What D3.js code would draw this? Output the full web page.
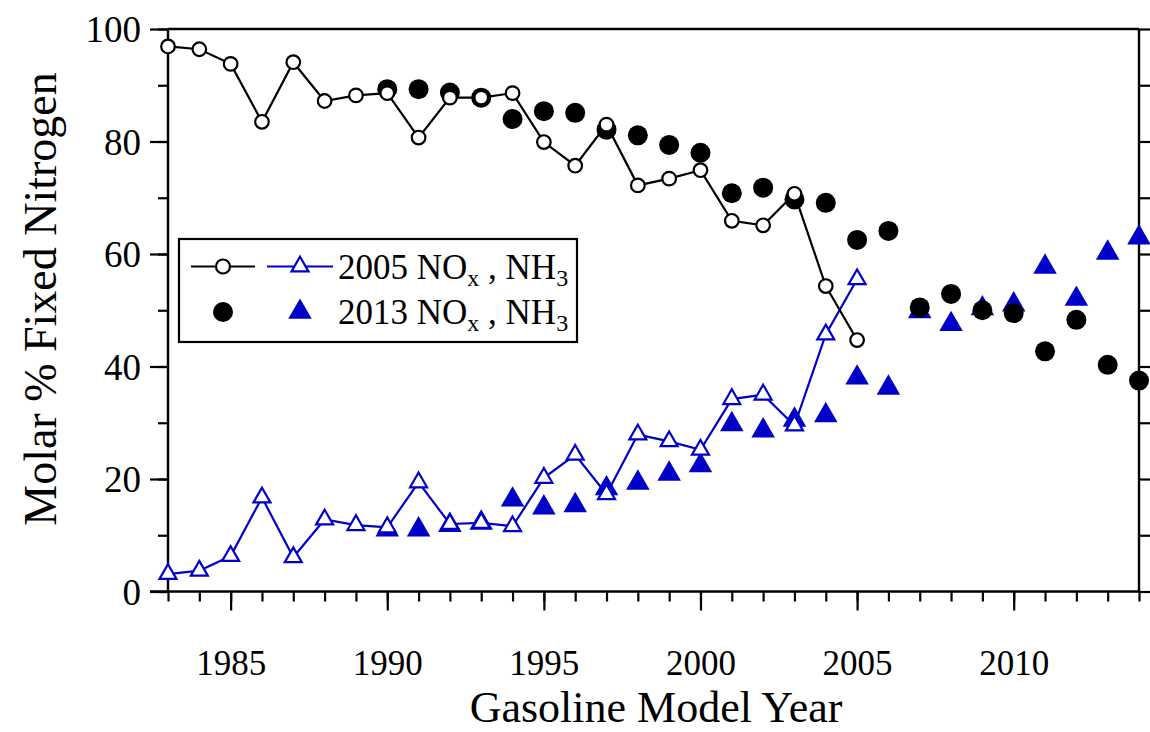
<!DOCTYPE html>
<html>
<head>
<meta charset="utf-8">
<script src="https://cdn.jsdelivr.net/npm/d3@7"></script>
<style>
  html, body { margin: 0; padding: 0; background: #fff; }
  svg { display: block; font-family: "Liberation Serif", "Times New Roman", serif; }
</style>
</head>
<body>
<svg id="chart" width="1150" height="732"></svg>
<script>
// Model years for each survey
const years2005 = d3.range(1983, 2006);
const years2013 = d3.range(1990, 2015);

// 2005 survey: NOx and NH3 (molar % of fixed nitrogen)
const nox2005 = [96.9, 96.4, 93.8, 83.5, 94.1, 87.2, 88.2, 88.6, 80.7, 87.8, 87.8, 88.6,
                 79.9, 75.7, 83.0, 72.2, 73.4, 74.9, 65.9, 65.1, 70.7, 54.3, 44.7];
const nh32005 = [3.1, 3.7, 6.3, 16.7, 6.1, 12.8, 11.8, 11.4, 19.4, 12.0, 12.2, 11.6,
                 20.2, 24.3, 17.3, 27.9, 26.7, 25.2, 34.2, 35.0, 29.5, 45.7, 55.5];

// 2013 survey: NOx and NH3
const nox2013 = [89.3, 89.3, 88.7, 87.8, 84.0, 85.4, 85.1, 82.1, 81.1, 79.4, 78.0, 70.8,
                 71.8, 69.7, 69.1, 62.5, 64.1, 50.5, 52.9, 50.0, 49.5, 42.7, 48.3, 40.3, 37.5];
const nh32013 = [11.0, 11.0, 11.8, 12.2, 16.3, 14.9, 15.3, 18.3, 19.3, 20.9, 22.4, 29.7,
                 28.6, 30.5, 31.3, 38.0, 36.2, 49.8, 47.5, 50.3, 51.0, 57.7, 52.0, 60.2, 62.9];

const xMajorTicks = [1985, 1990, 1995, 2000, 2005, 2010];
const yMajorTicks = [0, 20, 40, 60, 80, 100];

const BLUE = "#0000c8";
const svg = d3.select("#chart");
const plotLeft = 168, plotRight = 1139, plotTop = 29, plotBottom = 591.5;

const x = d3.scaleLinear().domain([1983, 2014]).range([plotLeft, plotRight]);
const y = d3.scaleLinear().domain([0, 100]).range([plotBottom, plotTop]);

const axisStyle = g => {
  g.selectAll(".domain").remove();
  g.selectAll("line").attr("stroke", "#000").attr("stroke-width", 2.2);
  g.selectAll("text").attr("fill", "#000");
};

// Minor ticks (every year / every 10 %)
svg.append("g").attr("transform", `translate(0,${plotBottom})`)
  .call(d3.axisBottom(x).tickValues(d3.range(1983, 2015)).tickSize(10).tickFormat(""))
  .call(axisStyle);
svg.append("g").attr("transform", `translate(${plotLeft},0)`)
  .call(d3.axisLeft(y).tickValues(d3.range(0, 101, 10)).tickSize(10).tickFormat(""))
  .call(axisStyle);
svg.append("g").attr("transform", `translate(${plotRight},0)`)
  .call(d3.axisRight(y).tickValues(d3.range(0, 101, 10)).tickSize(12).tickFormat(""))
  .call(axisStyle);

// Major ticks with labels
svg.append("g").attr("transform", `translate(0,${plotBottom})`)
  .call(d3.axisBottom(x).tickValues(xMajorTicks).tickSize(19).tickFormat(d3.format("d")))
  .call(axisStyle)
  .call(g => g.selectAll("text").attr("y", 83).attr("dy", 0)
    .attr("font-size", 35).attr("font-family", "Liberation Serif"));
svg.append("g").attr("transform", `translate(${plotLeft},0)`)
  .call(d3.axisLeft(y).tickValues(yMajorTicks).tickSize(18).tickPadding(9))
  .call(axisStyle)
  .call(g => g.selectAll("text").attr("dy", "0.34em")
    .attr("font-size", 37).attr("font-family", "Liberation Serif"));

// Frame lines
const frame = svg.append("g").attr("stroke", "#000").attr("stroke-width", 2.4);
frame.append("line").attr("x1", plotLeft).attr("x2", plotLeft).attr("y1", plotTop).attr("y2", plotBottom);
frame.append("line").attr("x1", plotRight).attr("x2", plotRight).attr("y1", plotTop).attr("y2", plotBottom);
frame.append("line").attr("x1", plotLeft).attr("x2", plotRight).attr("y1", plotTop).attr("y2", plotTop);
frame.append("line").attr("x1", plotLeft - 18).attr("x2", plotRight).attr("y1", plotBottom).attr("y2", plotBottom);

// Axis titles
svg.append("text")
  .attr("x", 656).attr("y", 722)
  .attr("text-anchor", "middle").attr("font-size", 44)
  .text("Gasoline Model Year");
svg.append("text")
  .attr("transform", "translate(56,299) rotate(-90)")
  .attr("text-anchor", "middle").attr("font-size", 46)
  .text("Molar % Fixed Nitrogen");

const triFilled = d3.symbol().type(d3.symbolTriangle).size(240);
const triOpen = d3.symbol().type(d3.symbolTriangle).size(125);

const pts = (years, vals) => years.map((yr, i) => ({ yr, v: vals[i] }));
const plot = svg.append("g");

// 2013 survey markers
plot.selectAll(".nh3-2013").data(pts(years2013, nh32013)).join("path")
  .attr("d", triFilled)
  .attr("transform", d => `translate(${x(d.yr)},${y(d.v)})`)
  .attr("fill", BLUE);
plot.selectAll(".nox-2013").data(pts(years2013, nox2013)).join("circle")
  .attr("cx", d => x(d.yr)).attr("cy", d => y(d.v)).attr("r", 10)
  .attr("fill", "#000");

// 2005 survey lines and markers
const line = d3.line().x(d => x(d.yr)).y(d => y(d.v));
plot.append("path").datum(pts(years2005, nh32005)).attr("d", line)
  .attr("fill", "none").attr("stroke", BLUE).attr("stroke-width", 2.2);
plot.selectAll(".nh3-2005").data(pts(years2005, nh32005)).join("path")
  .attr("d", triOpen)
  .attr("transform", d => `translate(${x(d.yr)},${y(d.v)})`)
  .attr("fill", "#fff").attr("stroke", BLUE).attr("stroke-width", 2.2);
plot.append("path").datum(pts(years2005, nox2005)).attr("d", line)
  .attr("fill", "none").attr("stroke", "#000").attr("stroke-width", 2.2);
plot.selectAll(".nox-2005").data(pts(years2005, nox2005)).join("circle")
  .attr("cx", d => x(d.yr)).attr("cy", d => y(d.v)).attr("r", 6.8)
  .attr("fill", "#fff").attr("stroke", "#000").attr("stroke-width", 2.2);

// Legend
const lg = svg.append("g");
lg.append("rect").attr("x", 179).attr("y", 239).attr("width", 398).attr("height", 103)
  .attr("fill", "#fff").attr("stroke", "#000").attr("stroke-width", 2.2);
const r1 = 266.5, r2 = 312;
lg.append("line").attr("x1", 191).attr("x2", 255).attr("y1", r1).attr("y2", r1)
  .attr("stroke", "#000").attr("stroke-width", 2.2);
lg.append("circle").attr("cx", 223).attr("cy", r1).attr("r", 7)
  .attr("fill", "#fff").attr("stroke", "#000").attr("stroke-width", 2.2);
lg.append("line").attr("x1", 267).attr("x2", 333).attr("y1", r1).attr("y2", r1)
  .attr("stroke", BLUE).attr("stroke-width", 2.2);
lg.append("path").attr("d", triOpen).attr("transform", `translate(300,${r1})`)
  .attr("fill", "#fff").attr("stroke", BLUE).attr("stroke-width", 2.2);
lg.append("circle").attr("cx", 223).attr("cy", r2).attr("r", 10).attr("fill", "#000");
lg.append("path").attr("d", triFilled).attr("transform", `translate(300,${r2})`)
  .attr("fill", BLUE);

const legendLabel = (yPos, yr) => {
  const t = lg.append("text").attr("x", 338).attr("y", yPos).attr("font-size", 35);
  t.append("tspan").text(`${yr} NO`);
  t.append("tspan").attr("font-size", 24).attr("dy", 7).text("x");
  t.append("tspan").attr("dy", -7).text(" , NH");
  t.append("tspan").attr("font-size", 24).attr("dy", 7).text("3");
};
legendLabel(r1 + 12, 2005);
legendLabel(r2 + 12, 2013);
</script>
</body>
</html>
